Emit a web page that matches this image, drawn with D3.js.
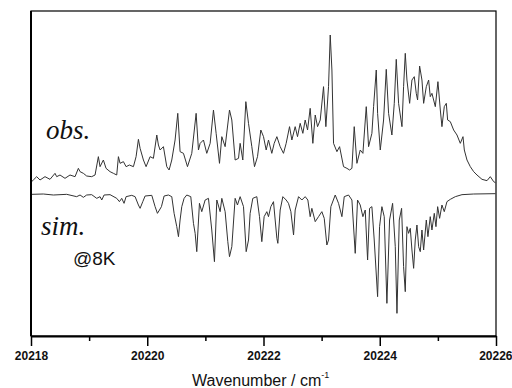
<!DOCTYPE html>
<html>
<head>
<meta charset="utf-8">
<script src="https://cdn.jsdelivr.net/npm/d3@7/dist/d3.min.js"></script>
<style>
  body { margin: 0; background: #fff; }
  svg { display: block; }
</style>
</head>
<body>
<svg id="chart" width="512" height="388"></svg>
<script>
// observed spectrum, wavenumber (cm-1) and intensity (a.u.)
const obsWn = [
  20218.011, 20218.040, 20218.098, 20218.155, 20218.241, 20218.327, 20218.413, 20218.442,
  20218.499, 20218.585, 20218.671, 20218.758, 20218.815, 20218.844, 20218.901, 20218.958,
  20219.044, 20219.102, 20219.159, 20219.188, 20219.245, 20219.291, 20219.360, 20219.418,
  20219.475, 20219.504, 20219.532, 20219.590, 20219.636, 20219.693, 20219.762, 20219.808,
  20219.848, 20219.877, 20219.934, 20219.980, 20220.049, 20220.106, 20220.164, 20220.192,
  20220.221, 20220.278, 20220.336, 20220.376, 20220.422, 20220.479, 20220.525, 20220.565,
  20220.623, 20220.692, 20220.766, 20220.841, 20220.881, 20220.910, 20220.967, 20221.024,
  20221.082, 20221.139, 20221.185, 20221.243, 20221.283, 20221.340, 20221.415, 20221.455,
  20221.512, 20221.570, 20221.598, 20221.644, 20221.696, 20221.742, 20221.799, 20221.845,
  20221.897, 20221.954, 20222.000, 20222.046, 20222.086, 20222.143, 20222.184, 20222.230,
  20222.287, 20222.344, 20222.390, 20222.448, 20222.488, 20222.545, 20222.585, 20222.631,
  20222.677, 20222.717, 20222.758, 20222.803, 20222.849, 20222.890, 20222.930, 20222.976,
  20223.033, 20223.073, 20223.119, 20223.148, 20223.177, 20223.205, 20223.263, 20223.309,
  20223.377, 20223.435, 20223.481, 20223.521, 20223.561, 20223.607, 20223.664, 20223.710,
  20223.768, 20223.808, 20223.865, 20223.894, 20223.940, 20223.963, 20224.009, 20224.066,
  20224.112, 20224.152, 20224.209, 20224.250, 20224.284, 20224.324, 20224.382, 20224.410,
  20224.439, 20224.468, 20224.514, 20224.554, 20224.594, 20224.628, 20224.651, 20224.686,
  20224.726, 20224.755, 20224.801, 20224.841, 20224.869, 20224.898, 20224.956, 20225.001,
  20225.042, 20225.070, 20225.110, 20225.145, 20225.168, 20225.214, 20225.271, 20225.329,
  20225.386, 20225.432, 20225.455, 20225.501, 20225.558, 20225.616, 20225.673, 20225.759,
  20225.845, 20225.902, 20225.960, 20225.989
];
const obsI = [
  0, 5, 15, 5, 15, 7, 25, 15,
  20, 10, 20, 15, 40, 30, 25, 17,
  15, 20, 75, 45, 65, 40, 30, 25,
  20, 75, 55, 60, 45, 50, 45, 75,
  127, 100, 65, 45, 75, 70, 140, 110,
  95, 105, 45, 35, 65, 125, 205, 90,
  85, 45, 85, 205, 95, 115, 125, 85,
  115, 215, 145, 55, 135, 105, 215, 185,
  65, 70, 115, 65, 240, 175, 105, 45,
  75, 155, 135, 95, 125, 85, 115, 135,
  105, 85, 115, 165, 125, 165, 135, 175,
  145, 185, 155, 220, 115, 200, 165, 185,
  285, 165, 285, 440, 335, 115, 90, 105,
  45, 40, 35, 40, 165, 55, 95, 85,
  225, 105, 145, 225, 335, 205, 95, 185,
  337, 205, 140, 235, 367, 235, 165, 285,
  385, 305, 235, 305, 315, 265, 245, 347,
  305, 235, 285, 305, 255, 265, 225, 300,
  215, 165, 225, 235, 185, 180, 155, 140,
  115, 135, 95, 65, 45, 30, 20, 7,
  3, 15, 0, -3
];

// simulated spectrum (plotted downward), wavenumber (cm-1) and intensity (a.u.)
const simWn = [
  20218.011, 20218.212, 20218.385, 20218.614, 20218.786, 20218.844, 20218.901, 20218.958,
  20219.044, 20219.131, 20219.188, 20219.217, 20219.257, 20219.360, 20219.475, 20219.521,
  20219.561, 20219.601, 20219.636, 20219.733, 20219.791, 20219.848, 20219.877, 20219.923,
  20219.963, 20220.078, 20220.135, 20220.175, 20220.210, 20220.244, 20220.290, 20220.364,
  20220.422, 20220.462, 20220.508, 20220.537, 20220.565, 20220.594, 20220.634, 20220.680,
  20220.749, 20220.795, 20220.824, 20220.852, 20220.898, 20220.938, 20220.996, 20221.053,
  20221.110, 20221.156, 20221.197, 20221.254, 20221.283, 20221.340, 20221.386, 20221.415,
  20221.455, 20221.512, 20221.552, 20221.598, 20221.656, 20221.702, 20221.742, 20221.770,
  20221.816, 20221.885, 20221.931, 20221.971, 20222.011, 20222.057, 20222.086, 20222.126,
  20222.172, 20222.230, 20222.247, 20222.287, 20222.333, 20222.390, 20222.430, 20222.471,
  20222.517, 20222.545, 20222.603, 20222.660, 20222.717, 20222.763, 20222.803, 20222.832,
  20222.890, 20222.947, 20223.004, 20223.045, 20223.090, 20223.119, 20223.159, 20223.234,
  20223.291, 20223.349, 20223.389, 20223.463, 20223.521, 20223.578, 20223.618, 20223.664,
  20223.710, 20223.750, 20223.791, 20223.825, 20223.865, 20223.905, 20223.963, 20223.997,
  20224.037, 20224.077, 20224.123, 20224.169, 20224.221, 20224.267, 20224.296, 20224.336,
  20224.376, 20224.410, 20224.439, 20224.468, 20224.496, 20224.525, 20224.554, 20224.583,
  20224.611, 20224.640, 20224.669, 20224.697, 20224.726, 20224.755, 20224.801, 20224.829,
  20224.869, 20224.898, 20224.938, 20224.967, 20224.996, 20225.030, 20225.070, 20225.110,
  20225.156, 20225.214, 20225.300, 20225.415, 20225.616, 20225.989
];
const simI = [
  1, 0, 3, 1, 8, 3, 10, 3,
  2, 13, 8, 18, 3, 2, 13, 23,
  13, 28, 8, 4, 8, 33, 43, 23,
  6, 4, 38, 58, 48, 38, 6, 3,
  8, 58, 98, 128, 78, 38, 13, 3,
  8, 88, 118, 173, 28, 53, 18, 13,
  108, 203, 18, 53, 13, 53, 143, 188,
  158, 13, 33, 8, 38, 173, 138, 58,
  13, 8, 68, 143, 68, 53, 68, 38,
  23, 133, 148, 48, 8, 18, 28, 53,
  123, 48, 8, 18, 8, 18, 68, 43,
  83, 68, 53, 73, 153, 138, 38, 3,
  28, 68, 8, 3, 18, 178, 18, 33,
  68, 48, 198, 43, 38, 138, 308, 98,
  38, 68, 328, 78, 28, 158, 358, 78,
  43, 218, 293, 98, 118, 103, 168, 223,
  138, 93, 158, 173, 108, 168, 78, 128,
  68, 108, 58, 98, 38, 73, 33, 53,
  23, 16, 8, 2, 0, -1
];

const xTicks = [20218, 20220, 20222, 20224, 20226];
const xMinorTicks = [20219, 20221, 20223, 20225];
const obsOffset = 463;
const simOffset = 426;

const svg = d3.select('#chart');
const margin = { top: 11, right: 16, bottom: 52, left: 31 };
const width = 512 - margin.left - margin.right;
const height = 388 - margin.top - margin.bottom;

const x = d3.scaleLinear().domain([20218, 20226]).range([margin.left, margin.left + width]);
const y = d3.scaleLinear().domain([0, 975]).range([margin.top + height, margin.top]);

// clip
svg.append('defs').append('clipPath')
  .attr('id', 'plot-clip')
  .append('rect')
  .attr('x', margin.left)
  .attr('y', margin.top)
  .attr('width', width)
  .attr('height', height);

const obsData = obsWn.map((w, i) => [w, obsOffset + obsI[i]]);
const simData = simWn.map((w, i) => [w, simOffset - simI[i]]);

const line = d3.line()
  .x(d => x(d[0]))
  .y(d => y(d[1]));

const plot = svg.append('g').attr('clip-path', 'url(#plot-clip)');

plot.append('path')
  .datum(obsData)
  .attr('fill', 'none')
  .attr('stroke', '#333')
  .attr('stroke-width', 1)
  .attr('stroke-linejoin', 'round')
  .attr('d', line);

plot.append('path')
  .datum(simData)
  .attr('fill', 'none')
  .attr('stroke', '#333')
  .attr('stroke-width', 1)
  .attr('stroke-linejoin', 'round')
  .attr('d', line);

// frame
svg.append('rect')
  .attr('x', margin.left)
  .attr('y', margin.top)
  .attr('width', width)
  .attr('height', height)
  .attr('fill', 'none')
  .attr('stroke', '#000')
  .attr('stroke-width', 1.2);

svg.append('line')
  .attr('x1', margin.left).attr('x2', margin.left)
  .attr('y1', margin.top).attr('y2', margin.top + height)
  .attr('stroke', '#000')
  .attr('stroke-width', 2);

// x axis, major
const xAxis = svg.append('g')
  .attr('transform', `translate(0,${margin.top + height})`)
  .call(d3.axisBottom(x)
    .tickValues(xTicks)
    .tickSize(10)
    .tickSizeOuter(0)
    .tickPadding(5)
    .tickFormat(d3.format('d')));

xAxis.select('.domain').attr('stroke-width', 2);
xAxis.selectAll('.tick line').attr('stroke-width', 1.5);
xAxis.selectAll('.tick text')
  .style('font-family', 'Arial, "Liberation Sans", sans-serif')
  .style('font-size', '12px')
  .style('font-weight', 'bold')
  .attr('fill', '#111');
// last label sits at the window edge; nudge it inside
xAxis.selectAll('.tick text')
  .filter(d => d === xTicks[xTicks.length - 1])
  .attr('text-anchor', 'end')
  .attr('dx', 16);

// x axis, minor
const xMinor = svg.append('g')
  .attr('transform', `translate(0,${margin.top + height})`)
  .call(d3.axisBottom(x)
    .tickValues(xMinorTicks)
    .tickSize(5)
    .tickSizeOuter(0)
    .tickFormat(''));
xMinor.select('.domain').remove();
xMinor.selectAll('.tick line').attr('stroke-width', 1.5);

// axis title
const title = svg.append('text')
  .attr('x', 192)
  .attr('y', 386)
  .style('font-family', 'Arial, "Liberation Sans", sans-serif')
  .style('font-size', '16px')
  .attr('fill', '#111');
title.append('tspan').text('Wavenumber / cm');
title.append('tspan')
  .attr('dy', -8)
  .style('font-size', '9px')
  .text('-1');

// labels
svg.append('text')
  .attr('x', 46)
  .attr('y', 139)
  .style('font-family', '"Liberation Serif", "DejaVu Serif", serif')
  .style('font-style', 'italic')
  .style('font-size', '27px')
  .attr('fill', '#111')
  .text('obs.');

svg.append('text')
  .attr('x', 41)
  .attr('y', 235)
  .style('font-family', '"Liberation Serif", "DejaVu Serif", serif')
  .style('font-style', 'italic')
  .style('font-size', '27px')
  .attr('fill', '#111')
  .text('sim.');

svg.append('text')
  .attr('x', 73)
  .attr('y', 265)
  .style('font-family', 'Arial, "Liberation Sans", sans-serif')
  .style('font-size', '19px')
  .attr('fill', '#111')
  .text('@8K');
</script>
</body>
</html>
